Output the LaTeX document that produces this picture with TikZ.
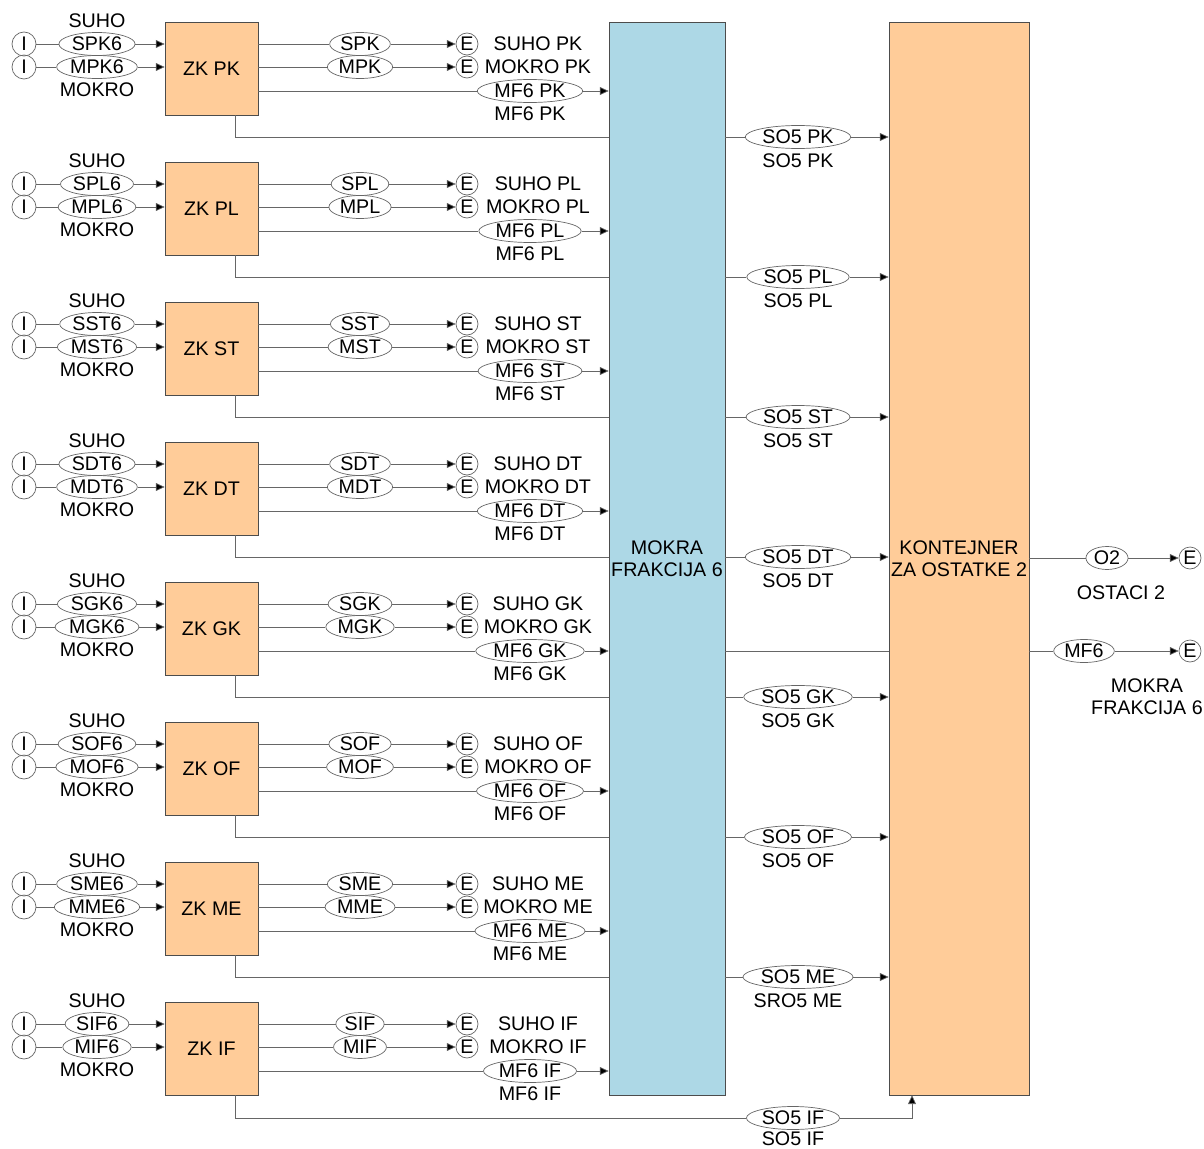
\documentclass[tikz,border=0pt]{standalone}
\usepackage{fontspec}
\setmainfont{Liberation Sans}
\usetikzlibrary{shapes.geometric,arrows.meta}
\definecolor{narancasta}{HTML}{FFCC99}
\definecolor{plava}{HTML}{ADD8E6}
\begin{document}
\begin{tikzpicture}[x=0.02cm,y=-0.02cm,
    font=\fontsize{11.2}{12.5}\selectfont,
    linija/.style={draw=black!60},
    strelica/.style={draw=black!60,-{Triangle[length=5pt,width=4.5pt,fill=black]}},
    blok/.style={draw=black!70,fill=narancasta,minimum width=1.86cm,minimum height=1.86cm},
    elipsa/.style={draw=black!60,ellipse,inner xsep=1pt,inner ysep=0.5pt,minimum height=0.46cm},
    ulaz/.style={draw=black!60,circle,inner sep=0pt,minimum size=0.48cm},
    izlaz/.style={draw=black!60,circle,inner sep=0pt,minimum size=0.44cm}]
  \useasboundingbox (0,0) rectangle (1204,1149);
  % frakcija i kontejner
  \node[draw=black!70,fill=plava,inner sep=0pt,minimum width=2.32cm,minimum height=21.46cm,align=center] (mokra) at (667,558.5) {MOKRA\\FRAKCIJA 6};
  \node[draw=black!70,fill=narancasta,inner sep=0pt,minimum width=2.8cm,minimum height=21.46cm,align=center] (kont) at (959,558.5) {KONTEJNER\\ZA OSTATKE 2};
  % redovi
  \foreach \k/\r/\ispod in {0/PK/SO5 PK,1/PL/SO5 PL,2/ST/SO5 ST,3/DT/SO5 DT,4/GK/SO5 GK,5/OF/SO5 OF,6/ME/SRO5 ME,7/IF/SO5 IF} {
    \begin{scope}[shift={(0,140*\k)}]
      \node[blok] (zk\r) at (211.5,68.5) {ZK \r};
      \node[ulaz] (is\r) at (24,44) {I};
      \node[ulaz] (im\r) at (24,67) {I};
      \node[elipsa] (s6\r) at (97,44) {S\r6};
      \node[elipsa] (m6\r) at (97,67) {M\r6};
      \node (suho\r) at (97,21) {SUHO};
      \node (mokro\r) at (97,90) {MOKRO};
      \draw[linija] (is\r) -- (s6\r);
      \draw[linija] (im\r) -- (m6\r);
      \draw[strelica] (s6\r) -- (zk\r.west |- s6\r);
      \draw[strelica] (m6\r) -- (zk\r.west |- m6\r);
      % izlazi
      \node[elipsa] (s\r) at (360,44) {S\r};
      \node[elipsa] (m\r) at (360,67) {M\r};
      \node[izlaz] (es\r) at (467,44) {E};
      \node[izlaz] (em\r) at (467,67) {E};
      \node at (538,44) {SUHO \r};
      \node at (538,67) {MOKRO \r};
      \draw[linija] (zk\r.east |- s\r) -- (s\r);
      \draw[linija] (zk\r.east |- m\r) -- (m\r);
      \draw[strelica] (s\r) -- (es\r);
      \draw[strelica] (m\r) -- (em\r);
      \node[elipsa] (mf\r) at (530,91) {MF6 \r};
      \node at (530,114) {MF6 \r};
      \draw[linija] (zk\r.east |- mf\r) -- (mf\r);
      \draw[strelica] (mf\r) -- (mokra.west |- mf\r);
      % ostaci
      \coordinate (d\r) at (235,137);
      \ifnum\k<7
        \node[elipsa] (so\r) at (798,137) {SO5 \r};
        \node at (798,161) {\ispod};
        \draw[linija] (zk\r.south -| d\r) -- (d\r) -- (mokra.west |- d\r);
        \draw[linija] (mokra.east |- so\r) -- (so\r);
        \draw[strelica] (so\r) -- (kont.west |- so\r);
      \else
        \node[elipsa] (so\r) at (793,138) {SO5 \r};
        \node at (793,159) {\ispod};
        \draw[linija] (zk\r.south -| d\r) -- (d\r |- so\r) -- (so\r);
        \draw[strelica] (so\r) -| ([xshift=-0.94cm]kont.south);
      \fi
    \end{scope}
  }
  % izlazi iz kontejnera
  \node[elipsa] (o2) at (1107,558) {O2};
  \node[izlaz] (eo2) at (1190,558) {E};
  \node at (1121,593) {OSTACI 2};
  \draw[linija] (kont.east |- o2) -- (o2);
  \draw[strelica] (o2) -- (eo2);
  \node[elipsa] (mf6) at (1084,651) {MF6};
  \node[izlaz] (emf6) at (1190,651) {E};
  \node[align=center] at (1147,697) {MOKRA\\FRAKCIJA 6};
  \draw[linija] (mokra.east |- mf6) -- (kont.west |- mf6);
  \draw[linija] (kont.east |- mf6) -- (mf6);
  \draw[strelica] (mf6) -- (emf6);
\end{tikzpicture}
\end{document}
